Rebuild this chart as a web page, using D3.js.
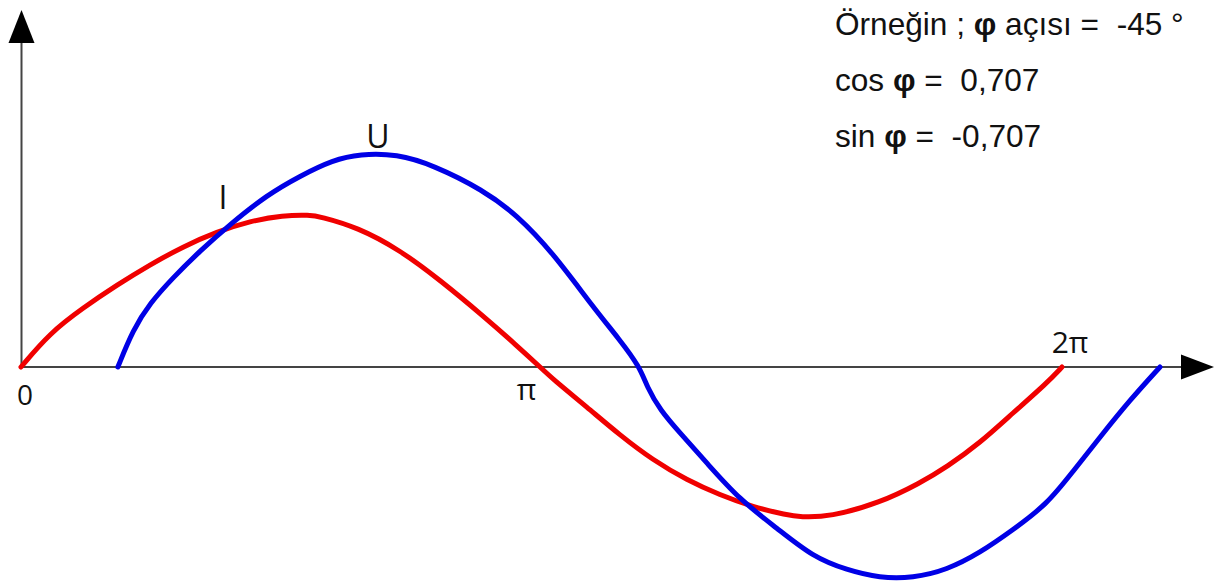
<!DOCTYPE html>
<html>
<head>
<meta charset="utf-8">
<script src="https://cdn.jsdelivr.net/npm/d3@7"></script>
<style>
  body { margin: 0; background: #fff; }
  svg { display: block; }
  .lbl { font-family: "Open Sans", "Noto Sans", sans-serif; fill: #111; }
  .note { font-family: "Liberation Sans", Arial, sans-serif; font-size: 31.6px; fill: #111; white-space: pre; }
</style>
</head>
<body>
<div id="chart"></div>
<script>
// Phase angle in degrees, amplitude relative to U peak
const currentAngle = [0, 10.0, 21.4, 33.2, 44.6, 56.0, 67.8, 79.2, 90.6, 99.9, 103.4, 116.2, 131.1, 144.9,
  159.8, 171.5, 179.5, 184.0, 195.7, 207.1, 218.5, 230.3, 241.7, 253.1, 264.9, 269.4, 279.7, 297.0,
  310.9, 320.2, 331.6, 343.0, 354.8, 360];
const currentValue = [0, 0.16, 0.277, 0.385, 0.48, 0.565, 0.635, 0.685, 0.712, 0.714, 0.706, 0.657, 0.549, 0.408,
  0.24, 0.10, 0, -0.058, -0.188, -0.32, -0.437, -0.531, -0.601, -0.657, -0.695, -0.704, -0.704, -0.638,
  -0.545, -0.469, -0.357, -0.216, -0.075, 0];

const voltageAngle = [33.5, 38.7, 44.6, 52.6, 61.9, 72.3, 85.1, 96.5, 107.9, 117.2, 130.0, 142.5, 159.8,
  171.5, 184.0, 197.8, 207.1, 214.0, 216.5, 221.0, 227.9, 237.2, 248.6, 261.4, 273.9, 285.6, 297.0,
  308.4, 320.2, 331.6, 343.0, 354.8, 363.8, 373.1, 383.5, 393.9];
const voltageValue = [0, 0.174, 0.300, 0.42, 0.545, 0.67, 0.808, 0.897, 0.972, 1.0, 1.0, 0.948, 0.831,
  0.714, 0.535, 0.282, 0.127, 0, -0.094, -0.202, -0.310, -0.451, -0.624, -0.756, -0.892, -0.953, -0.991,
  -0.991, -0.953, -0.873, -0.765, -0.645, -0.49, -0.33, -0.155, 0];

// Axis tick labels (angle, text)
const tickAngles = [0, 180, 360];
const tickLabels = ["0", "π", "2π"];

// Note lines, top right
const noteLines = [
  ["Örneğin ; ", "φ", " açısı =  -45 °"],
  ["cos ", "φ", " =  0,707"],
  ["sin ", "φ", " =  -0,707"]
];

const w = 1218, h = 585;
const red = "#f00000", blue = "#0000e6";

const svg = d3.select("#chart").append("svg")
  .attr("width", w)
  .attr("height", h);

// Scales: 0..360 degrees along the time axis, -1..1 amplitude
const xScale = d3.scaleLinear().domain([0, 360]).range([21, 1062]);
const yScale = d3.scaleLinear().domain([-1, 1]).range([580, 154]);

const x0 = xScale(0), y0 = yScale(0);

// Axes with arrow heads
svg.append("line")
  .attr("x1", x0).attr("y1", y0)
  .attr("x2", 1182).attr("y2", y0)
  .style("stroke", "#444").style("stroke-width", 2);

svg.append("line")
  .attr("x1", x0 + 0.5).attr("y1", y0)
  .attr("x2", x0 + 0.5).attr("y2", 42)
  .style("stroke", "#444").style("stroke-width", 2);

svg.append("path")
  .attr("d", `M${x0 + 0.5},10 L${x0 + 13.5},43 L${x0 - 12.5},43 Z`)
  .style("fill", "#000");

svg.append("path")
  .attr("d", `M1214,${y0} L1181,${y0 - 12.5} L1181,${y0 + 12.5} Z`)
  .style("fill", "#000");

// Curves, smoothed a bit since the points were read by eye
const lineFn = d3.line()
  .x((d) => xScale(d[0]))
  .y((d) => yScale(d[1]))
  .curve(d3.curveBasis);

svg.append("path")
  .attr("d", lineFn(d3.zip(currentAngle, currentValue)))
  .style("fill", "none")
  .style("stroke", red)
  .style("stroke-width", 5)
  .style("stroke-linecap", "round");

svg.append("path")
  .attr("d", lineFn(d3.zip(voltageAngle, voltageValue)))
  .style("fill", "none")
  .style("stroke", blue)
  .style("stroke-width", 5)
  .style("stroke-linecap", "round");

// Tick labels on the x axis
const tickPos = [[xScale(tickAngles[0]) + 4, y0 + 38, 28],
                 [xScale(tickAngles[1]) - 15, y0 + 33, 30],
                 [xScale(tickAngles[2]) + 8, y0 - 14, 30]];
tickLabels.forEach((t, i) => {
  svg.append("text")
    .attr("class", "lbl")
    .attr("x", tickPos[i][0])
    .attr("y", tickPos[i][1])
    .attr("text-anchor", "middle")
    .style("font-size", tickPos[i][2] + "px")
    .text(t);
});

// Curve names
svg.append("text").attr("class", "lbl")
  .attr("x", 223).attr("y", 209).attr("text-anchor", "middle")
  .style("font-size", "32px").text("I");
svg.append("text").attr("class", "lbl")
  .attr("x", 378).attr("y", 148).attr("text-anchor", "middle")
  .style("font-size", "32px").text("U");

// Note text
noteLines.forEach((parts, i) => {
  let t = svg.append("text")
    .attr("class", "note")
    .attr("x", 835)
    .attr("y", 35 + i * 56);
  parts.forEach((p, j) => {
    t.append("tspan")
      .style("font-weight", j === 1 ? "bold" : "normal")
      .text(p);
  });
});
</script>
</body>
</html>
